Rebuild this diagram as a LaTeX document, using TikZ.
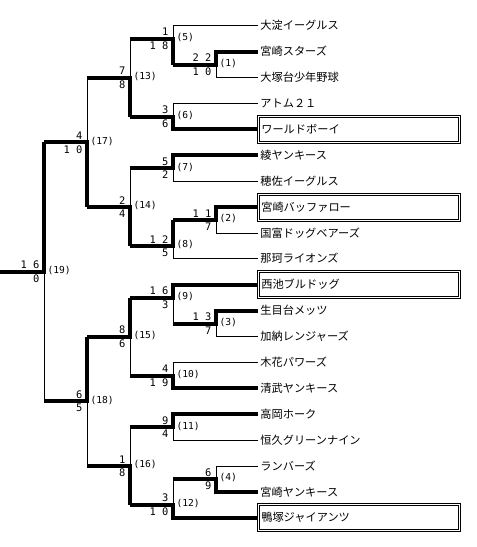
\documentclass[tikz,border=0pt]{standalone}
\usepackage{fontspec}
\newfontfamily\jpfont{Noto Sans CJK JP}
\newfontfamily\numfont{DejaVu Sans Mono}
\usetikzlibrary{positioning,calc}

\begin{document}
\begin{tikzpicture}[
      x=0.75pt, y=-19.425pt,
      win/.style={line width=3pt},
      lose/.style={line width=0.75pt},
      team/.style={anchor=west,inner sep=0pt,inner xsep=2pt,font=\jpfont\fontsize{8.4pt}{10pt}\selectfont,text height=7pt,text depth=1pt},
      seed/.style={team,draw,line width=0.75pt,double,double distance=0.75pt,text width=146pt,align=left,minimum height=19.5pt,inner xsep=2.5pt},
      score/.style={font=\numfont\fontsize{7.8pt}{9pt}\selectfont,inner sep=0pt},
      game/.style={font=\numfont\fontsize{7.2pt}{9pt}\selectfont,inner sep=0pt}]

    \useasboundingbox (0,0) rectangle (476,21.12);

    \node[team] (t1)  at (257.5,1)  {大淀イーグルス};
    \node[team] (t2)  at (257.5,2)  {宮崎スターズ};
    \node[team] (t3)  at (257.5,3)  {大塚台少年野球};
    \node[team] (t4)  at (257.5,4)  {アトム２１};
    \node[seed] (t5)  at (257.5,5)  {ワールドボーイ};
    \node[team] (t6)  at (257.5,6)  {綾ヤンキース};
    \node[team] (t7)  at (257.5,7)  {穂佐イーグルス};
    \node[seed] (t8)  at (257.5,8)  {宮崎バッファロー};
    \node[team] (t9)  at (257.5,9)  {国富ドッグベアーズ};
    \node[team] (t10) at (257.5,10) {那珂ライオンズ};
    \node[seed] (t11) at (257.5,11) {西池ブルドッグ};
    \node[team] (t12) at (257.5,12) {生目台メッツ};
    \node[team] (t13) at (257.5,13) {加納レンジャーズ};
    \node[team] (t14) at (257.5,14) {木花パワーズ};
    \node[team] (t15) at (257.5,15) {清武ヤンキース};
    \node[team] (t16) at (257.5,16) {高岡ホーク};
    \node[team] (t17) at (257.5,17) {恒久グリーンナイン};
    \node[team] (t18) at (257.5,18) {ランバーズ};
    \node[team] (t19) at (257.5,19) {宮崎ヤンキース};
    \node[seed] (t20) at (257.5,20) {鴨塚ジャイアンツ};

    \coordinate (j1)  at (216,2.5);
    \coordinate (j2)  at (216,8.5);
    \coordinate (j3)  at (216,12.5);
    \coordinate (j4)  at (216,18.5);
    \coordinate (j5)  at (173,1.5);
    \coordinate (j6)  at (173,4.5);
    \coordinate (j7)  at (173,6.5);
    \coordinate (j8)  at (173,9.5);
    \coordinate (j9)  at (173,11.5);
    \coordinate (j10) at (173,14.5);
    \coordinate (j11) at (173,16.5);
    \coordinate (j12) at (173,19.5);
    \coordinate (j13) at (130,3);
    \coordinate (j14) at (130,8);
    \coordinate (j15) at (130,13);
    \coordinate (j16) at (130,18);
    \coordinate (j17) at (87,5.5);
    \coordinate (j18) at (87,15.5);
    \coordinate (j19) at (44,10.5);
    \coordinate (start) at (0,10.5);

    \draw[win]  (j5 |- j1) -- (j1) -- (j1 |- t2.west) -- (t2.west);
    \draw[lose] (j1) -- (j1 |- t3.west) -- (t3.west);
    \draw[win]  (j8 |- j2) -- (j2) -- (j2 |- t8.west) -- (t8.west);
    \draw[lose] (j2) -- (j2 |- t9.west) -- (t9.west);
    \draw[win]  (j9 |- j3) -- (j3) -- (j3 |- t12.west) -- (t12.west);
    \draw[lose] (j3) -- (j3 |- t13.west) -- (t13.west);
    \draw[win]  (j12 |- j4) -- (j4) -- (j4 |- t19.west) -- (t19.west);
    \draw[lose] (j4) -- (j4 |- t18.west) -- (t18.west);

    \draw[win]  (j13 |- j5) -- (j5) -- (j5 |- j1);
    \draw[lose] (j5) -- (j5 |- t1.west) -- (t1.west);
    \draw[win]  (j13 |- j6) -- (j6) -- (j6 |- t5.west) -- (t5.west);
    \draw[lose] (j6) -- (j6 |- t4.west) -- (t4.west);
    \draw[win]  (j14 |- j7) -- (j7) -- (j7 |- t6.west) -- (t6.west);
    \draw[lose] (j7) -- (j7 |- t7.west) -- (t7.west);
    \draw[win]  (j14 |- j8) -- (j8) -- (j8 |- j2);
    \draw[lose] (j8) -- (j8 |- t10.west) -- (t10.west);
    \draw[win]  (j15 |- j9) -- (j9) -- (j9 |- t11.west) -- (t11.west);
    \draw[lose] (j9) -- (j9 |- j3);
    \draw[win]  (j15 |- j10) -- (j10) -- (j10 |- t15.west) -- (t15.west);
    \draw[lose] (j10) -- (j10 |- t14.west) -- (t14.west);
    \draw[win]  (j16 |- j11) -- (j11) -- (j11 |- t16.west) -- (t16.west);
    \draw[lose] (j11) -- (j11 |- t17.west) -- (t17.west);
    \draw[win]  (j16 |- j12) -- (j12) -- (j12 |- t20.west) -- (t20.west);
    \draw[lose] (j12) -- (j12 |- j4);

    \draw[win]  (j17 |- j13) -- (j13) -- (j13 |- j6);
    \draw[lose] (j13) -- (j13 |- j5);
    \draw[win]  (j17 |- j14) -- (j14) -- (j14 |- j8);
    \draw[lose] (j14) -- (j14 |- j7);
    \draw[win]  (j18 |- j15) -- (j15) -- (j15 |- j9);
    \draw[lose] (j15) -- (j15 |- j10);
    \draw[win]  (j18 |- j16) -- (j16) -- (j16 |- j12);
    \draw[lose] (j16) -- (j16 |- j11);

    \draw[win]  (j19 |- j17) -- (j17) -- (j17 |- j14);
    \draw[lose] (j17) -- (j17 |- j13);
    \draw[win]  (j19 |- j18) -- (j18) -- (j18 |- j15);
    \draw[lose] (j18) -- (j18 |- j16);

    \draw[win]  (start) -- (j19) -- (j19 |- j17);
    \draw[lose] (j19) -- (j19 |- j18);

    \node[game,right=2.5pt of j1,yshift=1pt]  (g1)  {(1)};  \node[score,above left=2pt and 3.3pt of j1]  (u1)  {2 2}; \node[score,below left=2pt and 3.3pt of j1]  (l1)  {1 0};
    \node[game,right=2.5pt of j2,yshift=1pt]  (g2)  {(2)};  \node[score,above left=2pt and 3.3pt of j2]  (u2)  {1 1}; \node[score,below left=2pt and 3.3pt of j2]  (l2)  {7};
    \node[game,right=2.5pt of j3,yshift=1pt]  (g3)  {(3)};  \node[score,above left=2pt and 3.3pt of j3]  (u3)  {1 3}; \node[score,below left=2pt and 3.3pt of j3]  (l3)  {7};
    \node[game,right=2.5pt of j4,yshift=1pt]  (g4)  {(4)};  \node[score,above left=2pt and 3.3pt of j4]  (u4)  {6};   \node[score,below left=2pt and 3.3pt of j4]  (l4)  {9};
    \node[game,right=2.5pt of j5,yshift=1pt]  (g5)  {(5)};  \node[score,above left=2pt and 3.3pt of j5]  (u5)  {1};   \node[score,below left=2pt and 3.3pt of j5]  (l5)  {1 8};
    \node[game,right=2.5pt of j6,yshift=1pt]  (g6)  {(6)};  \node[score,above left=2pt and 3.3pt of j6]  (u6)  {3};   \node[score,below left=2pt and 3.3pt of j6]  (l6)  {6};
    \node[game,right=2.5pt of j7,yshift=1pt]  (g7)  {(7)};  \node[score,above left=2pt and 3.3pt of j7]  (u7)  {5};   \node[score,below left=2pt and 3.3pt of j7]  (l7)  {2};
    \node[game,right=2.5pt of j8,yshift=1pt]  (g8)  {(8)};  \node[score,above left=2pt and 3.3pt of j8]  (u8)  {1 2}; \node[score,below left=2pt and 3.3pt of j8]  (l8)  {5};
    \node[game,right=2.5pt of j9,yshift=1pt]  (g9)  {(9)};  \node[score,above left=2pt and 3.3pt of j9]  (u9)  {1 6}; \node[score,below left=2pt and 3.3pt of j9]  (l9)  {3};
    \node[game,right=2.5pt of j10,yshift=1pt] (g10) {(10)}; \node[score,above left=2pt and 3.3pt of j10] (u10) {4};   \node[score,below left=2pt and 3.3pt of j10] (l10) {1 9};
    \node[game,right=2.5pt of j11,yshift=1pt] (g11) {(11)}; \node[score,above left=2pt and 3.3pt of j11] (u11) {9};   \node[score,below left=2pt and 3.3pt of j11] (l11) {4};
    \node[game,right=2.5pt of j12,yshift=1pt] (g12) {(12)}; \node[score,above left=2pt and 3.3pt of j12] (u12) {3};   \node[score,below left=2pt and 3.3pt of j12] (l12) {1 0};
    \node[game,right=2.5pt of j13,yshift=1pt] (g13) {(13)}; \node[score,above left=2pt and 3.3pt of j13] (u13) {7};   \node[score,below left=2pt and 3.3pt of j13] (l13) {8};
    \node[game,right=2.5pt of j14,yshift=1pt] (g14) {(14)}; \node[score,above left=2pt and 3.3pt of j14] (u14) {2};   \node[score,below left=2pt and 3.3pt of j14] (l14) {4};
    \node[game,right=2.5pt of j15,yshift=1pt] (g15) {(15)}; \node[score,above left=2pt and 3.3pt of j15] (u15) {8};   \node[score,below left=2pt and 3.3pt of j15] (l15) {6};
    \node[game,right=2.5pt of j16,yshift=1pt] (g16) {(16)}; \node[score,above left=2pt and 3.3pt of j16] (u16) {1};   \node[score,below left=2pt and 3.3pt of j16] (l16) {8};
    \node[game,right=2.5pt of j17,yshift=1pt] (g17) {(17)}; \node[score,above left=2pt and 3.3pt of j17] (u17) {4};   \node[score,below left=2pt and 3.3pt of j17] (l17) {1 0};
    \node[game,right=2.5pt of j18,yshift=1pt] (g18) {(18)}; \node[score,above left=2pt and 3.3pt of j18] (u18) {6};   \node[score,below left=2pt and 3.3pt of j18] (l18) {5};
    \node[game,right=2.5pt of j19,yshift=1pt] (g19) {(19)}; \node[score,above left=2pt and 3.3pt of j19] (u19) {1 6}; \node[score,below left=2pt and 3.3pt of j19] (l19) {0};
  \end{tikzpicture}
\end{document}
